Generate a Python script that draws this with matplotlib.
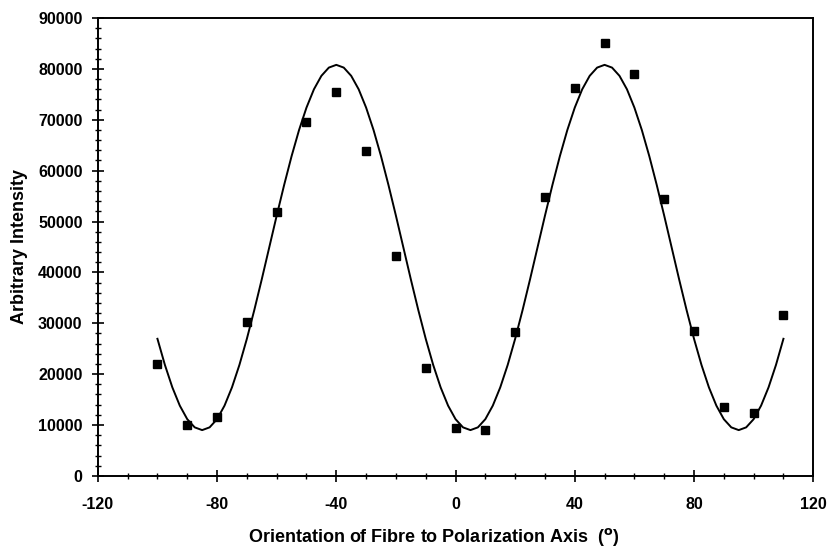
import matplotlib
matplotlib.use("Agg")
import matplotlib.pyplot as plt
from matplotlib.ticker import MultipleLocator

# measured data points
angle = [-100, -90, -80, -70, -60, -50, -40, -30, -20, -10, 0, 10,
         20, 30, 40, 50, 60, 70, 80, 90, 100, 110]
intensity = [22000, 10000, 11500, 30300, 51800, 69500, 75500, 63800, 43300,
             21200, 9500, 9000, 28300, 54800, 76300, 85000, 79000, 54500,
             28500, 13500, 12300, 31600]

# fitted curve, every 2.5 degrees (-100 .. 110)
fit_angle = [-100 + 2.5 * i for i in range(85)]
fit_intensity = [
    26950, 21820, 17400, 13810, 11150, 9540, 9000,
    9540, 11150, 13810, 17400, 21820, 26950, 32620, 38650, 44900,
    51150, 57180, 62850, 67980, 72400, 76000, 78640, 80260, 80800,
    80260, 78640, 76000, 72400, 67980, 62850, 57180, 51150, 44900,
    38650, 32620, 26950, 21820, 17400, 13810, 11150, 9540, 9000,
    9540, 11150, 13810, 17400, 21820, 26950, 32620, 38650, 44900,
    51150, 57180, 62850, 67980, 72400, 76000, 78640, 80260, 80800,
    80260, 78640, 76000, 72400, 67980, 62850, 57180, 51150, 44900,
    38650, 32620, 26950, 21820, 17400, 13810, 11150, 9540, 9000,
    9540, 11150, 13810, 17400, 21820, 26950,
]

xticks = [-120, -80, -40, 0, 40, 80, 120]
yticks = [0, 10000, 20000, 30000, 40000, 50000, 60000, 70000, 80000, 90000]

plt.rcParams['font.family'] = ['Liberation Sans', 'DejaVu Sans']

fig = plt.figure(figsize=(8.29, 5.47), dpi=100)
ax = fig.add_axes([0.118, 0.130, 0.863, 0.837])

ax.plot(fit_angle, fit_intensity, color='black', lw=1.4, zorder=2)
ax.plot(angle, intensity, ls='none', marker='s', ms=6.3, color='black', zorder=3)

ax.set_xlim(-120, 120)
ax.set_ylim(0, 90000)
ax.set_xticks(xticks)
ax.set_yticks(yticks)
ax.xaxis.set_minor_locator(MultipleLocator(10))
ax.yaxis.set_minor_locator(MultipleLocator(2000))
ax.set_xticklabels([str(v) for v in xticks], fontweight='bold', fontsize=11.5)
ax.set_yticklabels([str(v) for v in yticks], fontweight='bold', fontsize=11.5)

ax.tick_params(axis='both', which='major', direction='inout', length=8, width=1.2, colors='black')
ax.tick_params(axis='both', which='minor', direction='inout', length=4, width=1.0)
ax.tick_params(axis='x', which='major', pad=11)
ax.tick_params(axis='y', which='major', pad=7)

for s in ax.spines.values():
    s.set_linewidth(1.4)
    s.set_color('black')

ax.set_xlabel('Orientation of Fibre to Polarization Axis  ($^{\\mathbf{o}}$)',
              fontweight='bold', fontsize=13)
ax.set_ylabel('Arbitrary Intensity', fontweight='bold', fontsize=13)
ax.xaxis.set_label_coords(0.469, -0.110)
ax.yaxis.set_label_coords(-0.098, 0.502)

fig.savefig('out.png', dpi=100)
